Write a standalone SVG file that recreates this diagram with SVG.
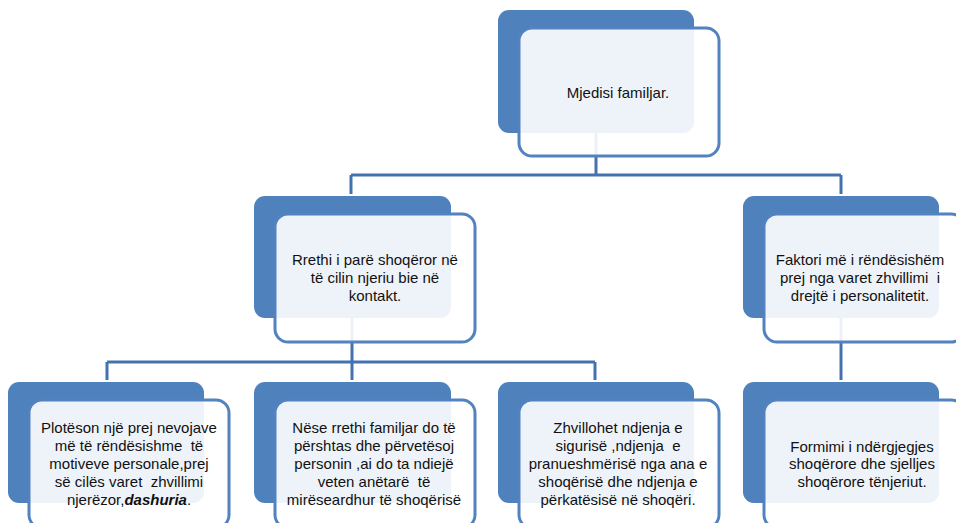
<svg xmlns="http://www.w3.org/2000/svg" width="956" height="523" viewBox="0 0 956 523">
<style>
.back{fill:#4F81BD;}
.front{fill:#FFFFFF;fill-opacity:0.9;stroke:#5282BF;stroke-width:3;}
.conn{fill:none;stroke:#4472AE;stroke-width:3;}
text{font-family:"Liberation Sans",Arial,sans-serif;font-size:15px;fill:#111111;text-anchor:middle;white-space:pre;}
</style>
<rect width="956" height="523" fill="#FFFFFF"/>
<g id="connectors">
<path class="conn" d="M596,133 V175 M351,175 H841 M351,175 V194 M841,175 V194"/>
<path class="conn" d="M352,318 V362 M107,362 H595 M107,362 V380 M352,362 V380 M595,362 V380"/>
<path class="conn" d="M841,318 V380"/>
</g>
<g id="n-top">
<rect class="back" x="498" y="10" width="196" height="123" rx="11"/>
<rect class="front" x="519" y="28" width="200" height="128" rx="13"/>
<text x="618" y="98">Mjedisi familjar.</text>
</g>
<g id="n-mid-left">
<rect class="back" x="254" y="196" width="197" height="122" rx="11"/>
<rect class="front" x="275" y="214" width="200" height="128" rx="13"/>
<text x="375" y="265">Rrethi i parë shoqëror në</text>
<text x="375" y="283">të cilin njeriu bie në</text>
<text x="375" y="301">kontakt.</text>
</g>
<g id="n-mid-right">
<rect class="back" x="743" y="196" width="196" height="122" rx="11"/>
<rect class="front" x="764" y="214" width="200" height="128" rx="13"/>
<text x="860" y="265">Faktori më i rëndësishëm</text>
<text x="860" y="283">prej nga varet zhvillimi  i</text>
<text x="860" y="301">drejtë i personalitetit.</text>
</g>
<g id="n-bot-1">
<rect class="back" x="8" y="382" width="196" height="121" rx="11"/>
<rect class="front" x="29" y="400" width="200" height="128" rx="13"/>
<text x="129" y="433">Plotëson një prej nevojave</text>
<text x="129" y="451">më të rëndësishme  të</text>
<text x="129" y="469">motiveve personale,prej</text>
<text x="129" y="487">së cilës varet  zhvillimi</text>
<text x="129" y="505">njerëzor,<tspan font-weight="bold" font-style="italic">dashuria</tspan>.</text>
</g>
<g id="n-bot-2">
<rect class="back" x="254" y="382" width="197" height="121" rx="11"/>
<rect class="front" x="275" y="400" width="200" height="128" rx="13"/>
<text x="374" y="433">Nëse rrethi familjar do të</text>
<text x="374" y="451">përshtas dhe përvetësoj</text>
<text x="374" y="469">personin ,ai do ta ndiejë</text>
<text x="374" y="487">veten anëtarë  të</text>
<text x="374" y="505">mirëseardhur të shoqërisë</text>
</g>
<g id="n-bot-3">
<rect class="back" x="498" y="382" width="196" height="121" rx="11"/>
<rect class="front" x="519" y="400" width="200" height="128" rx="13"/>
<text x="618" y="433">Zhvillohet ndjenja e</text>
<text x="618" y="451">sigurisë ,ndjenja  e</text>
<text x="618" y="469">pranueshmërisë nga ana e</text>
<text x="618" y="487">shoqërisë dhe ndjenja e</text>
<text x="618" y="505">përkatësisë në shoqëri.</text>
</g>
<g id="n-bot-4">
<rect class="back" x="743" y="382" width="196" height="121" rx="11"/>
<rect class="front" x="764" y="400" width="200" height="128" rx="13"/>
<text x="862" y="452">Formimi i ndërgjegjes</text>
<text x="862" y="469">shoqërore dhe sjelljes</text>
<text x="862" y="487">shoqërore tënjeriut.</text>
</g>
</svg>
